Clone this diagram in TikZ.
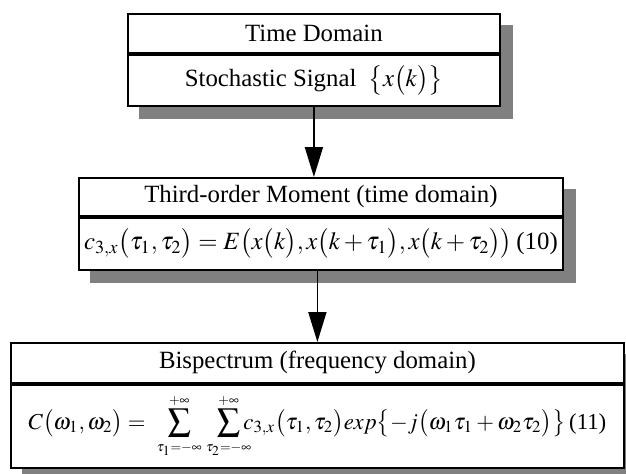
\documentclass[tikz,border=0pt]{standalone}
\usepackage{mathptmx}
\usepackage{fontspec}
\setmainfont{Liberation Serif}
\usetikzlibrary{positioning,arrows.meta,backgrounds}

\tikzset{
  cell/.style={draw, line width=0.9pt, fill=white, inner sep=0pt,
    font=\fontsize{12.4}{15}\selectfont, anchor=north west},
  boxshadow/.style={fill=black!50},
  flowarrow/.style={line width=0.9pt, -{Triangle[width=9pt,length=15pt]}}
}
\newcommand{\sumlim}[1]{{\scriptscriptstyle #1}}

\begin{document}
\begin{tikzpicture}[x=0.5pt, y=-0.5pt]
    \useasboundingbox (0,0) rectangle (626,473);

    % Time domain block
    \node[cell, minimum width=186pt, minimum height=19.5pt] (title1) at (127,13) {Time Domain};
    \node[cell, minimum width=186pt, minimum height=25.5pt, below=0pt of title1] (body1)
      {Stochastic Signal\ \ $\bigl\{x\bigl(k\bigr)\bigr\}$};

    % Third-order moment block
    \node[cell, minimum width=242pt, minimum height=19pt] (title2) at (78,177) {Third-order Moment (time domain)};
    \node[cell, minimum width=242pt, minimum height=26pt, below=0pt of title2] (body2)
      {$c_{3,x}\bigl(\tau_1,\tau_2\bigr)=E\bigl(x\bigl(k\bigr),x\bigl(k+\tau_1\bigr),x\bigl(k+\tau_2\bigr)\bigr)$\,(10)};

    % Bispectrum block
    \node[cell, minimum width=306.5pt, minimum height=20pt] (title3) at (10,342) {Bispectrum (frequency domain)};
    \node[cell, minimum width=306.5pt, minimum height=41.5pt, below=0pt of title3,
      font=\fontsize{11.4}{14}\selectfont] (body3)
      {$\displaystyle C\bigl(\omega_1,\omega_2\bigr)=\hspace{3pt}\sum_{\sumlim{\tau_1=-\infty}}^{\sumlim{+\infty}}\hspace{1pt}\sum_{\sumlim{\tau_2=-\infty}}^{\sumlim{+\infty}}\mkern-8mu c_{3,x}\bigl(\tau_1,\tau_2\bigr)exp\bigl\{-j\bigl(\omega_1\tau_1+\omega_2\tau_2\bigr)\bigr\}$\,(11)};

    \begin{scope}[on background layer]
      \foreach \t/\b in {title1/body1, title2/body2, title3/body3}
        \fill[boxshadow] ([shift={(12,12)}]\t.north west)
          rectangle ([shift={(12,12)}]\b.south east);
    \end{scope}

    \draw[flowarrow] (body1.south) -- (body1.south |- title2.north);
    \draw[flowarrow] (title3.north |- body2.south) -- (title3.north);
\end{tikzpicture}
\end{document}
